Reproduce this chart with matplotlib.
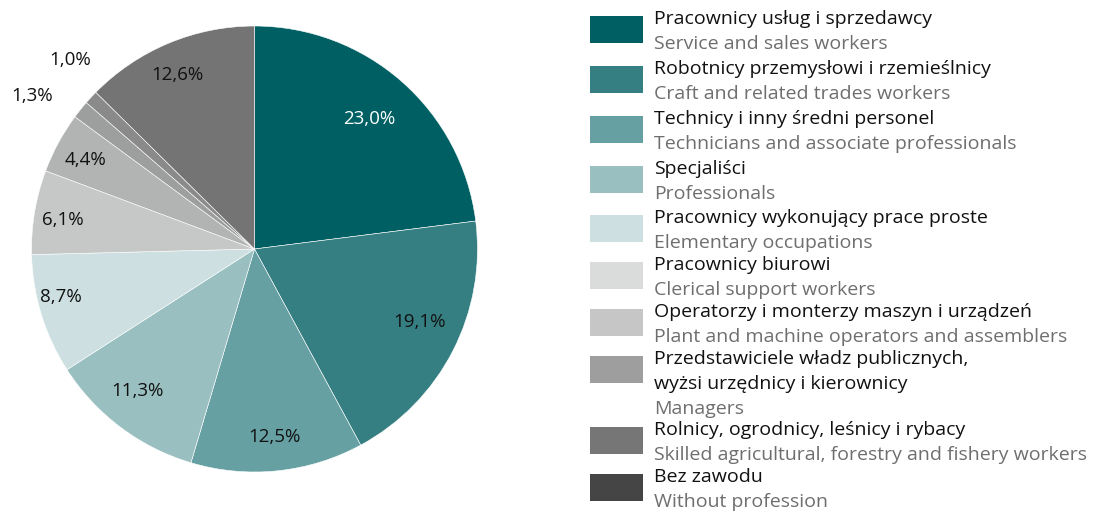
import numpy as np
import matplotlib.pyplot as plt
from matplotlib.patches import Rectangle

plt.rcParams['font.family'] = ['Open Sans', 'DejaVu Sans']

# dane
shares = [23.0, 19.1, 12.5, 11.3, 8.7, 6.1, 4.4, 1.3, 1.0, 12.6]
pie_colors = ['#005f63', '#357f83', '#66a0a3', '#9abfc1', '#cddfe0',
              '#c6c7c7', '#b2b3b3', '#9d9e9e', '#8a8a8a', '#747474']
# położenie etykiet procentowych (odległość od środka, korekta kąta)
label_dist = [0.78, 0.807, 0.847, 0.826, 0.895, 0.869, 0.855, 1.21, 1.183, 0.854]
label_shift = [0, 3.3, 0, -2.7, -3.2, 1.0, 0.6, 4.1, -2.8, 1.3]

names_pl = ['Pracownicy usług i sprzedawcy',
            'Robotnicy przemysłowi i rzemieślnicy',
            'Technicy i inny średni personel',
            'Specjaliści',
            'Pracownicy wykonujący prace proste',
            'Pracownicy biurowi',
            'Operatorzy i monterzy maszyn i urządzeń',
            'Przedstawiciele władz publicznych,\nwyżsi urzędnicy i kierownicy',
            'Rolnicy, ogrodnicy, leśnicy i rybacy',
            'Bez zawodu']
names_en = ['Service and sales workers',
            'Craft and related trades workers',
            'Technicians and associate professionals',
            'Professionals',
            'Elementary occupations',
            'Clerical support workers',
            'Plant and machine operators and assemblers',
            'Managers',
            'Skilled agricultural, forestry and fishery workers',
            'Without profession']
legend_colors = ['#005f63', '#357f83', '#66a0a3', '#9abfc1', '#cddfe0',
                 '#dadbdb', '#c6c6c6', '#9e9e9e', '#767676', '#454545']

W, H = 1093, 511
fig = plt.figure(figsize=(W / 100, H / 100), dpi=100)

# wykres kołowy
cx, cy, r = 254.5, 262, 223
ax = fig.add_axes([(cx - r) / W, (cy - r) / H, 2 * r / W, 2 * r / H])
wedges, _ = ax.pie(shares, colors=pie_colors, startangle=90, counterclock=False,
                   wedgeprops=dict(edgecolor='white', linewidth=0.4))
ax.set_xlim(-1, 1)
ax.set_ylim(-1, 1)
ax.set_aspect('equal')
ax.axis('off')

for w, val, d, s in zip(wedges, shares, label_dist, label_shift):
    ang = np.deg2rad((w.theta1 + w.theta2) / 2 + s)
    txt = f'{val:.1f}%'.replace('.', ',')
    color = 'white' if val == shares[0] else '#111111'
    ax.text(d * np.cos(ang), d * np.sin(ang), txt, ha='center', va='center',
            fontsize=13.5, color=color)

# legenda
sq_tops = [16, 66, 116, 166, 215, 262, 309, 356, 427, 474]
fs = 14
for top, pl, en, c in zip(sq_tops, names_pl, names_en, legend_colors):
    fig.add_artist(Rectangle((590 / W, 1 - (top + 27) / H), 53 / W, 27 / H,
                             transform=fig.transFigure, color=c, lw=0))
    lines = pl.split('\n')
    for i, ln in enumerate(lines):
        fig.text(654 / W, 1 - (top + 3 + 25 * i) / H, ln, ha='left', va='center',
                 fontsize=fs, color='#111111')
    fig.text(654 / W, 1 - (top + 3 + 25 * len(lines)) / H, en, ha='left', va='center',
             fontsize=fs, color='#6e6e6e')

plt.savefig('out.png', dpi=100)
